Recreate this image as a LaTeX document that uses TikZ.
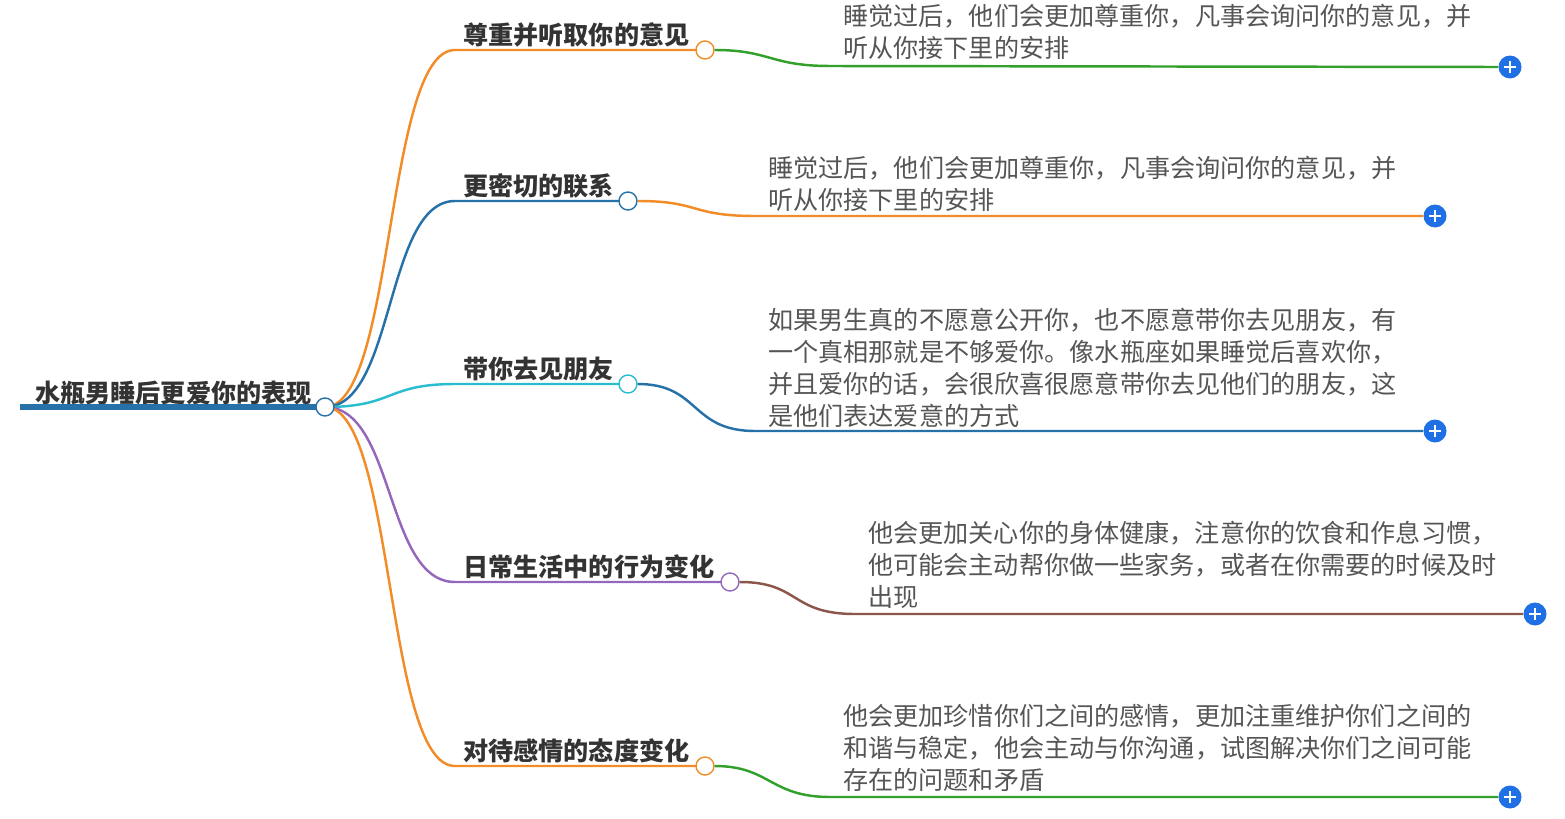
\documentclass[tikz,border=0pt]{standalone}
\usepackage{fontspec}
\setmainfont{Noto Sans CJK SC}
\usetikzlibrary{positioning}
\definecolor{corange}{HTML}{F28C28}
\definecolor{cblue}{HTML}{2672A8}
\definecolor{cteal}{HTML}{2ABCCF}
\definecolor{cpurple}{HTML}{9467BD}
\definecolor{cbrown}{HTML}{8C564B}
\definecolor{cgreen}{HTML}{33A02C}
\definecolor{cplus}{HTML}{1F6FE5}
\definecolor{ctext}{HTML}{555555}

\begin{document}
\begin{tikzpicture}[
    x=0.02cm, y=-0.02cm,
    root/.style={
        font=\fontsize{14.3}{18}\selectfont\bfseries,
        text=black!80,
        inner sep=0pt,
        anchor=west
    },
    topic/.style={
        font=\fontsize{14.3}{18}\selectfont\bfseries,
        text=black!80,
        inner sep=0pt,
        anchor=west
    },
    detail/.style={
        font=\fontsize{14.3}{18.2}\selectfont,
        text=ctext,
        inner sep=0pt,
        anchor=north west,
        align=left
    },
    knob/.style={
        circle,
        draw=#1,
        thick,
        fill=white,
        minimum size=0.36cm,
        inner sep=0pt
    },
    plus/.style={
        circle,
        fill=cplus,
        minimum size=0.46cm,
        inner sep=0pt,
        path picture={
            \draw[white, line width=1.6pt]
                ([xshift=-0.12cm]path picture bounding box.center) -- ([xshift=0.12cm]path picture bounding box.center)
                ([yshift=-0.12cm]path picture bounding box.center) -- ([yshift=0.12cm]path picture bounding box.center);
        }
    },
    link/.style={
        line width=1.4pt
    }
]
\useasboundingbox (0,0) rectangle (1565,818);

% Root
\node[root] (root) at (35,393) {水瓶男睡后更爱你的表现};
\coordinate (rs) at (20,407);
\coordinate (rc) at (325,407);

% Turning points of the topic lines
\coordinate (t1) at (455,50);
\coordinate (t2) at (455,201);
\coordinate (t3) at (455,384);
\coordinate (t4) at (455,582);
\coordinate (t5) at (455,766);

% Topic texts
\node[topic] (n1) at (463,35) {尊重并听取你的意见};
\node[topic] (n2) at (463,186) {更密切的联系};
\node[topic] (n3) at (463,369) {带你去见朋友};
\node[topic] (n4) at (463,567) {日常生活中的行为变化};
\node[topic] (n5) at (463,751) {对待感情的态度变化};

% Details
\node[detail] (d1) at (843,4) {睡觉过后，他们会更加尊重你，凡事会询问你的意见，并\\听从你接下里的安排};
\node[detail] (d2) at (768,156) {睡觉过后，他们会更加尊重你，凡事会询问你的意见，并\\听从你接下里的安排};
\node[detail] (d3) at (768,308) {如果男生真的不愿意公开你，也不愿意带你去见朋友，有\\一个真相那就是不够爱你。像水瓶座如果睡觉后喜欢你，\\并且爱你的话，会很欣喜很愿意带你去见他们的朋友，这\\是他们表达爱意的方式};
\node[detail] (d4) at (868,521) {他会更加关心你的身体健康，注意你的饮食和作息习惯，\\他可能会主动帮你做一些家务，或者在你需要的时候及时\\出现};
\node[detail] (d5) at (843,704) {他会更加珍惜你们之间的感情，更加注重维护你们之间的\\和谐与稳定，他会主动与你沟通，试图解决你们之间可能\\存在的问题和矛盾};

% Branch curves
\draw[link, corange] (rc) .. controls (395,407) and (385,50) .. (t1) -- (705,50);
\draw[link, cblue] (rc) .. controls (395,407) and (385,201) .. (t2) -- (628,201);
\draw[link, cteal] (rc) .. controls (395,407) and (385,384) .. (t3) -- (628,384);
\draw[link, cpurple] (rc) .. controls (395,407) and (385,582) .. (t4) -- (730,582);
\draw[link, corange] (rc) .. controls (395,407) and (385,766) .. (t5) -- (705,766);
\draw[line width=3pt, cblue] (rs) -- (rc);

% Knobs
\node[knob=cblue] (c0) at (rc) {};
\node[knob=corange] (c1) at (705,50) {};
\node[knob=cblue] (c2) at (628,201) {};
\node[knob=cteal] (c3) at (628,384) {};
\node[knob=cpurple] (c4) at (730,582) {};
\node[knob=corange] (c5) at (705,766) {};

% Plus buttons
\node[plus] (p1) at (1510,67) {};
\node[plus] (p2) at (1435,216) {};
\node[plus] (p3) at (1435,431) {};
\node[plus] (p4) at (1535,614) {};
\node[plus] (p5) at (1510,797) {};

% Detail lines
\coordinate (e1) at (830,66);
\coordinate (e2) at (755,216);
\coordinate (e3) at (755,431);
\coordinate (e4) at (855,614);
\coordinate (e5) at (830,797);
\draw[link, cgreen] (c1.east) .. controls (770,50) and (770,66) .. (e1) -- (p1.west);
\draw[link, corange] (c2.east) .. controls (700,201) and (690,216) .. (e2) -- (p2.west);
\draw[link, cblue] (c3.east) .. controls (700,384) and (690,431) .. (e3) -- (p3.west);
\draw[link, cbrown] (c4.east) .. controls (800,582) and (790,614) .. (e4) -- (p4.west);
\draw[link, cgreen] (c5.east) .. controls (770,766) and (770,797) .. (e5) -- (p5.west);
\end{tikzpicture}
\end{document}
